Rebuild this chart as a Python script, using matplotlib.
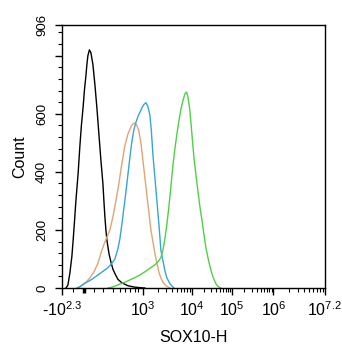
import numpy as np
import matplotlib.pyplot as plt
from matplotlib.transforms import blended_transform_factory

plt.rcParams['font.family'] = ['Liberation Sans', 'DejaVu Sans']
plt.rcParams['mathtext.fontset'] = 'custom'
plt.rcParams['mathtext.rm'] = 'Liberation Sans'
plt.rcParams['mathtext.it'] = 'Liberation Sans'

# histogram outlines, x in display channels (0..1052), y in counts
black_x = [16, 24, 32, 40, 45, 50, 56, 65, 72, 78, 85, 90, 96, 100, 104, 110,
           116, 124, 132, 140, 148, 156, 164, 168, 172, 176, 180, 188, 196, 204,
           212, 224, 240, 264, 292, 332]
black_y = [0, 10, 52, 110, 165, 225, 300, 396, 490, 560, 624, 680, 730, 770, 800, 820,
           810, 770, 700, 620, 530, 440, 360, 300, 245, 200, 165, 120, 90, 65,
           50, 30, 18, 8, 3, 0]

orange_x = [64, 80, 96, 112, 128, 144, 156, 168, 180, 192, 204, 216, 228, 240, 252,
            264, 276, 284, 292, 300, 308, 316, 324, 332, 340, 348, 356, 364, 372,
            380, 388, 396, 404, 416, 432]
orange_y = [0, 8, 20, 35, 55, 85, 120, 150, 175, 200, 245, 300, 360, 430, 490,
            530, 555, 565, 568, 560, 540, 500, 440, 380, 320, 260, 200, 160, 120,
            85, 55, 35, 20, 8, 0]

blue_x = [60, 72, 88, 104, 120, 136, 152, 168, 184, 200, 212, 224, 232, 240, 248,
          256, 264, 272, 280, 288, 296, 304, 312, 320, 328, 336, 344, 352, 358,
          364, 372, 380, 388, 396, 404, 412, 420, 432, 448]
blue_y = [0, 5, 15, 22, 30, 40, 50, 60, 70, 85, 100, 135, 170, 220, 275,
          330, 390, 450, 505, 545, 570, 590, 605, 620, 632, 638, 625, 595, 540,
          460, 380, 300, 220, 130, 95, 60, 35, 15, 0]

green_x = [184, 200, 216, 232, 252, 272, 292, 312, 332, 352, 372, 384, 396, 404,
           412, 420, 428, 436, 444, 452, 460, 468, 476, 484, 492, 498, 504, 512,
           520, 528, 536, 544, 552, 560, 568, 576, 584, 592, 600, 608, 616, 624, 636]
green_y = [0, 3, 8, 14, 20, 28, 36, 45, 56, 68, 80, 90, 105, 130,
           170, 220, 280, 350, 420, 480, 530, 575, 615, 645, 668, 675, 660, 610,
           530, 450, 390, 335, 280, 235, 185, 140, 105, 75, 50, 30, 15, 6, 0]

# axis decades (channel position, label)
decade_pos = [0, 324, 520, 680, 846, 1052]
decade_lab = ['-$10^{2.3}$', '$10^{3}$', '$10^{4}$', '$10^{5}$', '$10^{6}$', '$10^{7.2}$']
low_minor = [44, 128, 164, 204, 231, 251, 271, 291, 304]
zero_pos = 88

count_ticks = [0, 200, 400, 600, 800, 906]
count_lab = ['0', '200', '400', '600', '', '906']

fig = plt.figure(figsize=(3.42, 3.5), dpi=100)
ax = fig.add_axes([0.181, 0.177, 0.769, 0.752])

ax.plot(black_x, black_y, color='black', lw=1.0)
ax.plot(orange_x, orange_y, color='#e2a473', lw=1.0)
ax.plot(blue_x, blue_y, color='#35a6d6', lw=1.0)
ax.plot(green_x, green_y, color='#4fd046', lw=1.0)

ax.set_xlim(0, 1052)
ax.set_ylim(0, 906)

# log minor ticks between the upper decades
minors = list(low_minor)
for a, b in zip(decade_pos[1:-1], decade_pos[2:]):
    for m in range(2, 10):
        minors.append(a + np.log10(m) * (b - a))
ax.set_xticks(decade_pos)
ax.set_xticklabels(decade_lab, fontsize=11.5)
ax.set_xticks(minors, minor=True)
ax.tick_params(axis='x', which='major', length=5, width=1, pad=4)
ax.tick_params(axis='x', which='minor', length=3, width=0.8)

ax.set_yticks(count_ticks)
ax.set_yticklabels(count_lab, fontsize=9.5, rotation=90, va='center')
ax.set_yticks(np.arange(40, 906, 40), minor=True)
ax.tick_params(axis='y', which='major', length=5, width=1, pad=5)
ax.tick_params(axis='y', which='minor', length=3, width=0.8)

# heavy mark at zero
trans = blended_transform_factory(ax.transData, ax.transAxes)
ax.vlines(zero_pos, -0.02, 0, transform=trans, color='black', lw=2.5, clip_on=False)

for s in ax.spines.values():
    s.set_linewidth(1.0)

ax.set_xlabel('SOX10-H', fontsize=11.5, labelpad=8)
ax.set_ylabel('Count', fontsize=11.5, labelpad=6)

plt.savefig('out.png', dpi=100)
